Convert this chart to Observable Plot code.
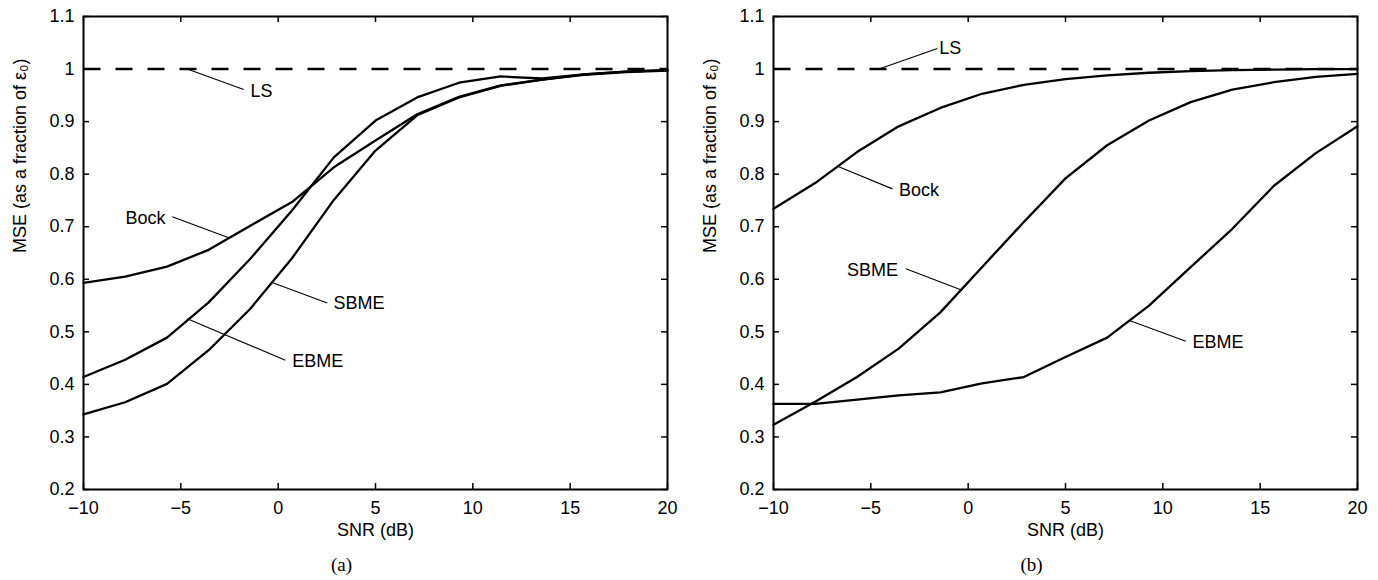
<!DOCTYPE html>
<html>
<head>
<meta charset="utf-8">
<script src="https://cdn.jsdelivr.net/npm/d3@7"></script>
<script src="https://cdn.jsdelivr.net/npm/@observablehq/plot@0.6"></script>
<style>
  html, body { margin: 0; padding: 0; background: #fff; }
  #wrap { display: flex; width: 1378px; height: 580px; }
  #wrap svg { display: block; }
</style>
</head>
<body>
<div id="wrap"></div>
<script>
// ---- data ----
const snr = [-10, -7.86, -5.71, -3.57, -1.43, 0.71, 2.86, 5, 7.14, 9.29, 11.43, 13.57, 15.71, 17.86, 20];

// panel (a)
const bockA = [0.593, 0.605, 0.624, 0.656, 0.702, 0.747, 0.813, 0.864, 0.914, 0.947, 0.969, 0.980, 0.990, 0.995, 0.998];
const ebmeA = [0.414, 0.447, 0.489, 0.556, 0.639, 0.731, 0.832, 0.902, 0.946, 0.974, 0.986, 0.982, 0.990, 0.995, 0.998];
const sbmeA = [0.343, 0.366, 0.401, 0.465, 0.544, 0.640, 0.751, 0.845, 0.912, 0.946, 0.968, 0.980, 0.989, 0.994, 0.997];

// panel (b)
const bockB = [0.734, 0.783, 0.842, 0.891, 0.926, 0.953, 0.970, 0.981, 0.988, 0.993, 0.996, 0.998, 0.999, 1.000, 1.000];
const sbmeB = [0.323, 0.367, 0.414, 0.468, 0.537, 0.623, 0.709, 0.792, 0.855, 0.902, 0.937, 0.961, 0.975, 0.985, 0.991];
const ebmeB = [0.363, 0.363, 0.371, 0.379, 0.385, 0.402, 0.414, 0.452, 0.489, 0.550, 0.623, 0.696, 0.778, 0.840, 0.891];

// LS reference line
const lsSnr = [-10, 20];
const lsMse = [1, 1];

// ticks
const xTicks = [-10, -5, 0, 5, 10, 15, 20];
const yTicks = [0.2, 0.3, 0.4, 0.5, 0.6, 0.7, 0.8, 0.9, 1, 1.1];

// annotations: [label, textSnr, textMse, anchor, leaderSnr1, leaderMse1, leaderSnr2, leaderMse2]
const notesA = [
  ["LS",   -1.42, 0.958, "start", -4.67, 1.000, -1.77, 0.961],
  ["Bock", -5.79, 0.716, "end",   -5.44, 0.719, -2.54, 0.679],
  ["SBME",  2.84, 0.554, "start", -0.31, 0.594,  2.52, 0.555],
  ["EBME",  0.72, 0.444, "start", -4.67, 0.525,  0.37, 0.446]
];
const notesB = [
  ["LS",   -1.49, 1.039, "start", -4.58, 1.000, -1.58, 1.039],
  ["Bock", -3.55, 0.770, "start", -6.71, 0.815, -3.89, 0.772],
  ["SBME", -3.60, 0.618, "end",   -3.20, 0.620, -0.38, 0.580],
  ["EBME", 11.52, 0.480, "start",  8.32, 0.521, 11.18, 0.482]
];

const xLabel = "SNR (dB)";
const yLabel = "MSE (as a fraction of ε₀)";

// ---- drawing ----
const W = 689, H = 580, MT = 16, MB = 91;
const fmtX = d => d < 0 ? "\u2212" + (-d) : String(d);

function rowsFor(series) {
  const rows = [];
  for (const [name, vals] of series) {
    vals.forEach((v, i) => rows.push({name, snr: snr[i], mse: v}));
  }
  return rows;
}

function panel(series, notes, caption, ml, mr) {
  const fw = W - ml - mr, fh = H - MT - MB;
  const ls = lsSnr.map((s, i) => ({snr: s, mse: lsMse[i]}));
  return Plot.plot({
    width: W, height: H,
    marginLeft: ml, marginRight: mr, marginTop: MT, marginBottom: MB,
    x: {domain: [-10, 20]},
    y: {domain: [0.2, 1.1]},
    style: {fontFamily: "'Liberation Sans', Arial, Helvetica, sans-serif", fontSize: "18px", color: "#000", background: "#fff"},
    marks: [
      Plot.line(rowsFor(series), {x: "snr", y: "mse", z: "name", stroke: "#000", strokeWidth: 2.3}),
      Plot.line(ls, {x: "snr", y: "mse", stroke: "#000", strokeWidth: 2.6, strokeDasharray: "17,15", strokeLinecap: "butt"}),
      Plot.link(notes, {x1: d => d[4], y1: d => d[5], x2: d => d[6], y2: d => d[7], stroke: "#000", strokeWidth: 1.1}),
      Plot.text(notes.filter(d => d[3] === "start"), {x: d => d[1], y: d => d[2], text: d => d[0], textAnchor: "start", fill: "#000"}),
      Plot.text(notes.filter(d => d[3] === "end"), {x: d => d[1], y: d => d[2], text: d => d[0], textAnchor: "end", fill: "#000"}),
      // inward ticks on all four sides
      Plot.tickX(xTicks, {x: d => d, insetTop: fh - 6, stroke: "#000", strokeWidth: 1.5}),
      Plot.tickX(xTicks, {x: d => d, insetBottom: fh - 6, stroke: "#000", strokeWidth: 1.5}),
      Plot.tickY(yTicks, {y: d => d, insetRight: fw - 6, stroke: "#000", strokeWidth: 1.5}),
      Plot.tickY(yTicks, {y: d => d, insetLeft: fw - 6, stroke: "#000", strokeWidth: 1.5}),
      Plot.frame({stroke: "#000", strokeWidth: 2}),
      Plot.axisX(xTicks, {tickSize: 0, tickPadding: 12, tickFormat: fmtX, label: null}),
      Plot.axisY(yTicks, {tickSize: 0, tickPadding: 9, tickFormat: d => String(d), label: null}),
      Plot.text([xLabel], {frameAnchor: "bottom", dy: 46, fill: "#000"}),
      Plot.text([yLabel], {frameAnchor: "left", rotate: -90, dx: -63, fill: "#000"}),
      Plot.text([caption], {frameAnchor: "bottom", dy: 81, dx: -34, fill: "#000",
        fontFamily: "'Liberation Serif', 'Times New Roman', serif", fontSize: 19})
    ]
  });
}

const wrap = document.getElementById("wrap");
wrap.appendChild(panel([["Bock", bockA], ["EBME", ebmeA], ["SBME", sbmeA]], notesA, "(a)", 83, 22));
wrap.appendChild(panel([["Bock", bockB], ["SBME", sbmeB], ["EBME", ebmeB]], notesB, "(b)", 84, 21));
</script>
</body>
</html>
